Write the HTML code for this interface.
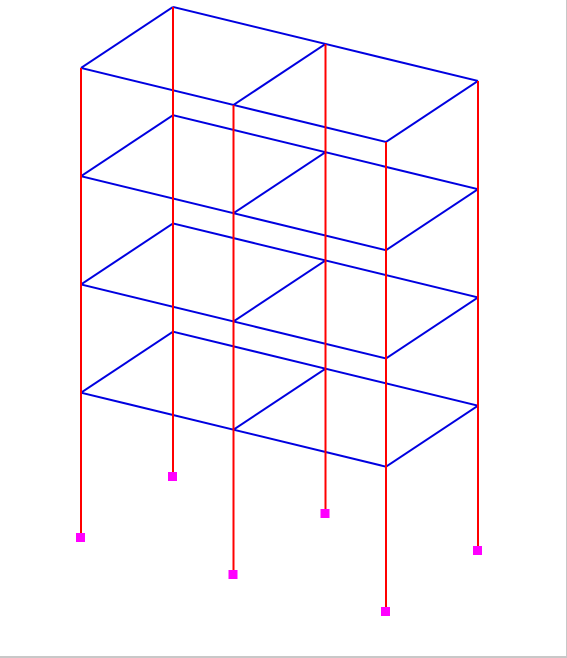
<!DOCTYPE html>
<html><head><meta charset="utf-8"><style>
html,body{margin:0;padding:0;background:#fff;}
svg{display:block;}
</style></head><body>
<svg id="chart" width="567" height="658" viewBox="0 0 567 658" xmlns="http://www.w3.org/2000/svg">
<rect x="0" y="0" width="567" height="658" fill="#fff"/>
<rect x="566" y="0" width="1" height="658" fill="#c8c8c8"/>
<rect x="0" y="656" width="567" height="2" fill="#c8c8c8"/>
<g id="beams"></g>
<g id="columns"></g>
<g id="supports"></g>
</svg>
<script>
const gridX = [0, 1, 2];          // bays along x
const gridY = [0, 1];             // bays along y
const levels = [0, 4, 7, 10, 13]; // elevations (m), 0 = base
function px(i, j) { return 81 + i * 152.5 + j * 92; }
function py(i, j, z) { return 537 + i * 37 - j * 61 - z * 36.08; }
const NS = 'http://www.w3.org/2000/svg';
function line(g, x1, y1, x2, y2, color, name) {
  const l = document.createElementNS(NS, 'line');
  l.setAttribute('x1', x1); l.setAttribute('y1', y1);
  l.setAttribute('x2', x2); l.setAttribute('y2', y2);
  l.setAttribute('stroke', color); l.setAttribute('stroke-width', '2');
  
  
  g.appendChild(l);
}
const gb = document.getElementById('beams');
const gc = document.getElementById('columns');
const gs = document.getElementById('supports');
const topZ = levels[levels.length - 1];
gridX.forEach(i => gridY.forEach(j => {
  line(gc, px(i, j), py(i, j, 0), px(i, j), py(i, j, topZ), '#ff0000', 'column');
}));
levels.slice(1).forEach(z => {
  gridY.forEach(j => {
    for (let k = 0; k < gridX.length - 1; k++) {
      const a = gridX[k], b = gridX[k + 1];
      line(gb, px(a, j), py(a, j, z), px(b, j), py(b, j, z), '#0000e0', 'beam-x');
    }
  });
  gridX.forEach(i => {
    for (let k = 0; k < gridY.length - 1; k++) {
      const a = gridY[k], b = gridY[k + 1];
      line(gb, px(i, a), py(i, a, z), px(i, b), py(i, b, z), '#0000e0', 'beam-y');
    }
  });
});
gridX.forEach(i => gridY.forEach(j => {
  const r = document.createElementNS(NS, 'rect');
  r.setAttribute('x', px(i, j) - 5); r.setAttribute('y', py(i, j, 0) - 4);
  r.setAttribute('width', 9); r.setAttribute('height', 9);
  r.setAttribute('fill', '#ff00ff');
  
  
  gs.appendChild(r);
}));
</script>
</body></html>
